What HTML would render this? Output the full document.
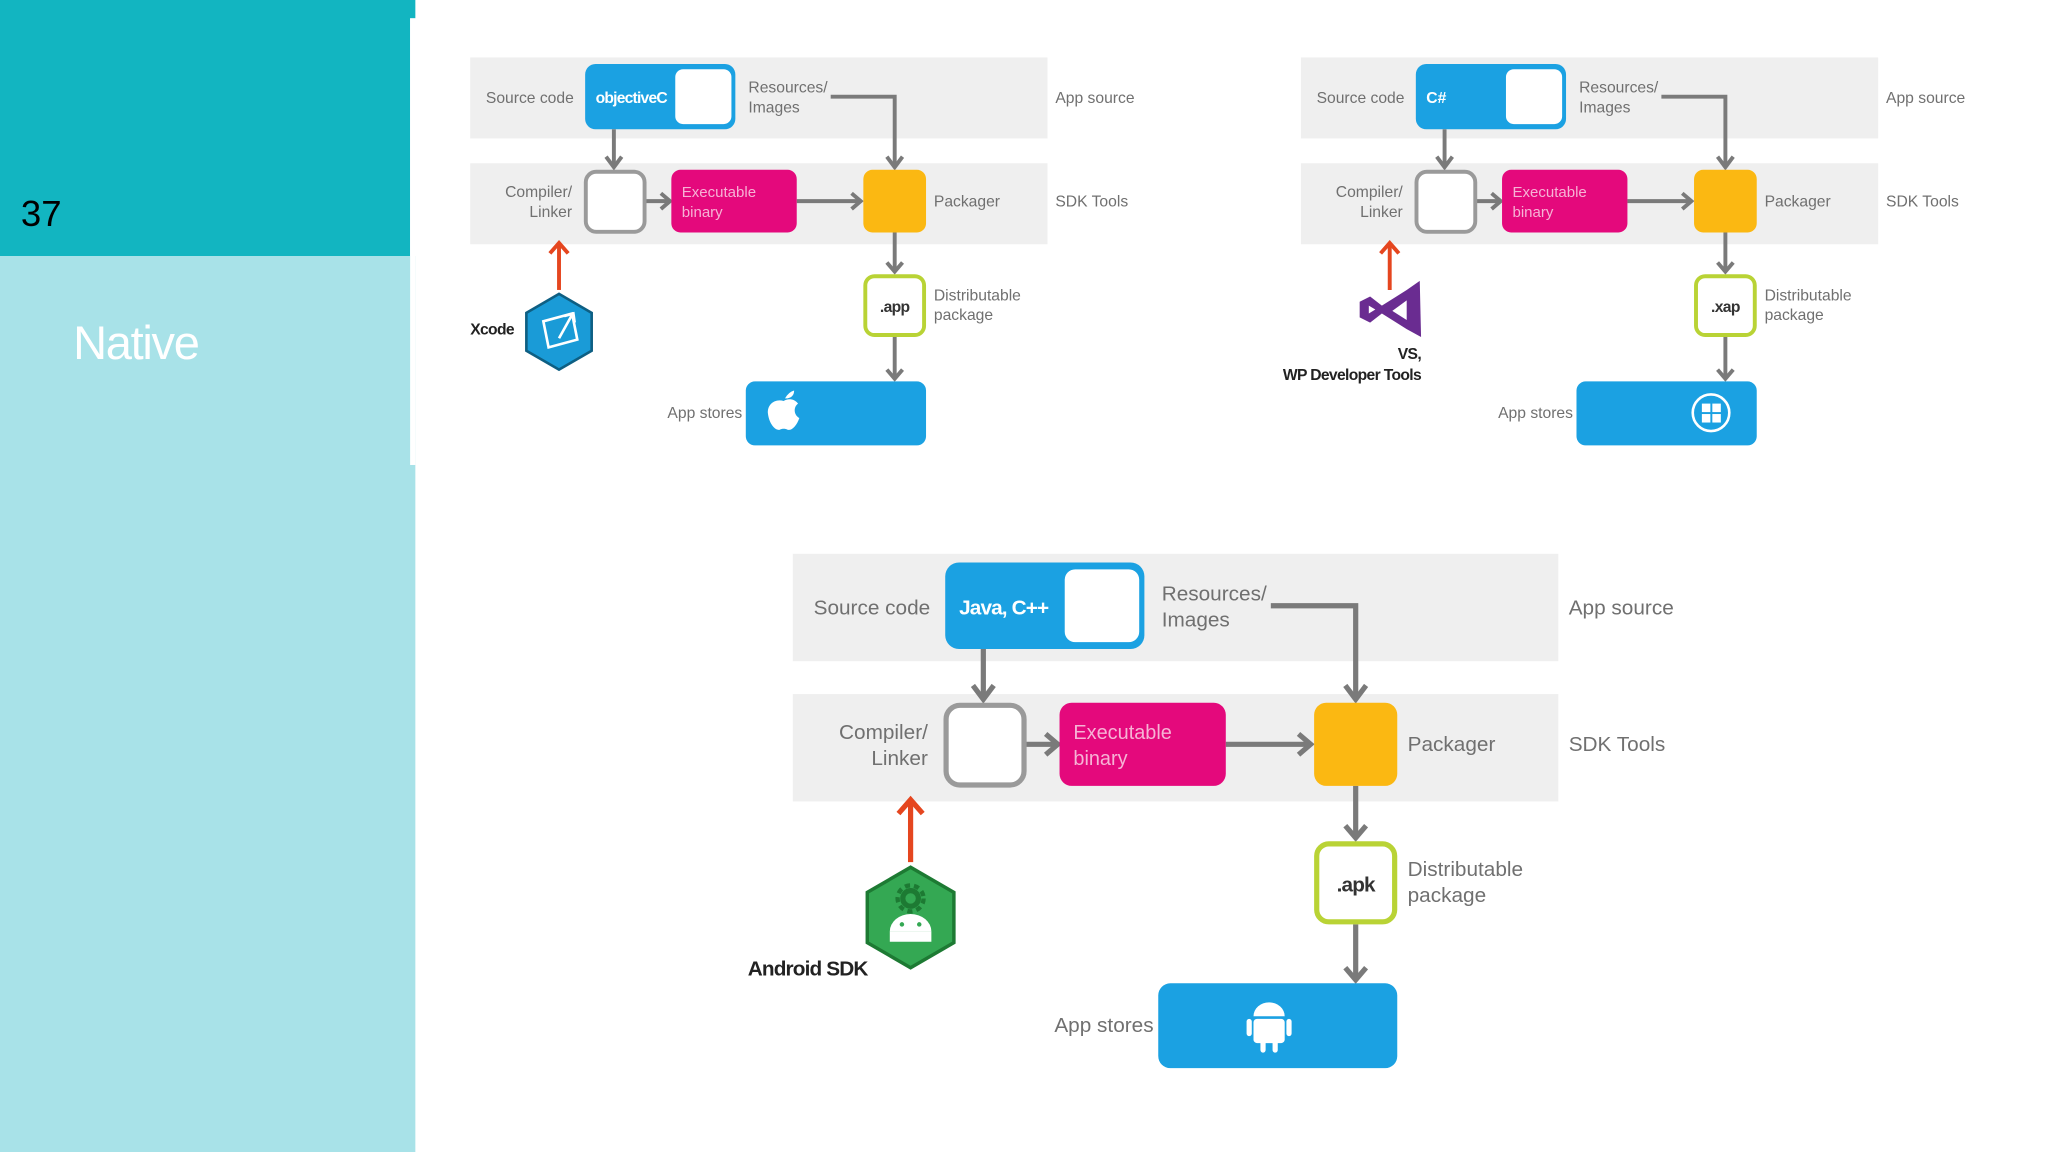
<!DOCTYPE html>
<html><head><meta charset="utf-8"><style>
html,body{margin:0;padding:0;background:#fff;width:2048px;height:1152px;overflow:hidden}
svg{display:block}
text{font-family:"Liberation Sans",sans-serif}
</style></head><body>
<svg width="2048" height="1152" viewBox="0 0 1568 882" xmlns="http://www.w3.org/2000/svg">
<rect x="0" y="0" width="1568" height="882" fill="#fff"/>
<rect x="0" y="0" width="318" height="14" fill="#12b5c1"/>
<rect x="0" y="0" width="314" height="196" fill="#12b5c1"/>
<rect x="0" y="196" width="318" height="686" fill="#a8e2e8"/>
<rect x="314" y="14" width="4" height="342" fill="#fff"/>
<text x="16" y="173" font-size="28" fill="#000">37</text>
<text x="56" y="275" font-size="36" fill="#fff" letter-spacing="-1" style="font-family:'Liberation Sans Narrow','Liberation Sans',sans-serif">Native</text>

<!-- Diagram 1 iOS -->
<g font-size="12" fill="#707070">
<rect x="360" y="44" width="442" height="62" fill="#efefef"/>
<rect x="360" y="125" width="442" height="62" fill="#efefef"/>
<text x="372" y="79">Source code</text>
<rect x="448" y="49" width="115" height="50" rx="8" fill="#1ba1e2"/>
<rect x="517" y="53" width="43" height="42" rx="6" fill="#fff"/>
<text x="456" y="79" fill="#fff" font-weight="bold" letter-spacing="-0.6">objectiveC</text>
<text x="573" y="71">Resources/</text><text x="573" y="86">Images</text>
<g stroke="#7a7a7a" stroke-width="3" fill="none">
<path d="M636 74 H685 V128"/><path d="M679 120 L685 128 L691 120"/>
<path d="M470 99 V128"/><path d="M464 120 L470 128 L476 120"/>
<path d="M494 154 H512"/><path d="M506 148 L513 154 L506 160"/>
<path d="M610 154 H658"/><path d="M652 148 L659 154 L652 160"/>
<path d="M685 178 V208"/><path d="M679 201 L685 208 L691 201"/>
<path d="M685 258 V290"/><path d="M679 283 L685 290 L691 283"/>
</g>
<rect x="448.5" y="131.5" width="45" height="46" rx="8" fill="#fff" stroke="#9a9a9a" stroke-width="3"/>
<text x="438" y="151" text-anchor="end">Compiler/</text><text x="438" y="166" text-anchor="end">Linker</text>
<rect x="514" y="130" width="96" height="48" rx="7" fill="#e4097c"/>
<text x="522" y="151" fill="#f6b3d5" font-size="11.5">Executable</text><text x="522" y="166" fill="#f6b3d5" font-size="11.5">binary</text>
<rect x="661" y="130" width="48" height="48" rx="7" fill="#fbb812"/>
<text x="715" y="158">Packager</text>
<text x="808" y="79">App source</text><text x="808" y="158">SDK Tools</text>
<rect x="662.5" y="211.5" width="45" height="45" rx="7" fill="#fff" stroke="#b9d335" stroke-width="3"/>
<text x="685" y="239" text-anchor="middle" fill="#333" font-weight="bold" letter-spacing="-0.5">.app</text>
<text x="715" y="230">Distributable</text><text x="715" y="245">package</text>
<rect x="571" y="292" width="138" height="49" rx="7" fill="#1ba1e2"/>
<text x="511" y="320">App stores</text>
<path d="M601 305 q3 -5 7 -6 q0 5 -5 6 z M600 307 c-7 -2 -13 3 -12 10 c1 8 6 13 9 12 c2 -1 4 -1 6 0 c3 1 7 -3 9 -9 c-4 -2 -5 -8 -1 -11 c-3 -4 -8 -4 -11 -2 z" fill="#fff"/>
<path d="M428 222 V188" stroke="#e5461f" stroke-width="3"/><path d="M421 194 L428 186 L435 194" stroke="#e5461f" stroke-width="3" fill="none"/>
<polygon points="428,225 453,239.5 453,268.5 428,283 403,268.5 403,239.5" fill="#1a9bd7" stroke="#0e5f83" stroke-width="2"/>
<path d="M416 246 L438 240 L442 260 L420 266 Z" fill="none" stroke="#fff" stroke-width="2"/>
<path d="M428 259 L438 241 M432 242 L439 240 L440 247" fill="none" stroke="#fff" stroke-width="2"/>
<text x="360" y="256" fill="#222" font-weight="bold" letter-spacing="-0.5">Xcode</text>
</g>

<!-- Diagram 2 Windows -->
<g font-size="12" fill="#707070" transform="translate(636,0)">
<rect x="360" y="44" width="442" height="62" fill="#efefef"/>
<rect x="360" y="125" width="442" height="62" fill="#efefef"/>
<text x="372" y="79">Source code</text>
<rect x="448" y="49" width="115" height="50" rx="8" fill="#1ba1e2"/>
<rect x="517" y="53" width="43" height="42" rx="6" fill="#fff"/>
<text x="456" y="79" fill="#fff" font-weight="bold">C#</text>
<text x="573" y="71">Resources/</text><text x="573" y="86">Images</text>
<g stroke="#7a7a7a" stroke-width="3" fill="none">
<path d="M636 74 H685 V128"/><path d="M679 120 L685 128 L691 120"/>
<path d="M470 99 V128"/><path d="M464 120 L470 128 L476 120"/>
<path d="M494 154 H512"/><path d="M506 148 L513 154 L506 160"/>
<path d="M610 154 H658"/><path d="M652 148 L659 154 L652 160"/>
<path d="M685 178 V208"/><path d="M679 201 L685 208 L691 201"/>
<path d="M685 258 V290"/><path d="M679 283 L685 290 L691 283"/>
</g>
<rect x="448.5" y="131.5" width="45" height="46" rx="8" fill="#fff" stroke="#9a9a9a" stroke-width="3"/>
<text x="438" y="151" text-anchor="end">Compiler/</text><text x="438" y="166" text-anchor="end">Linker</text>
<rect x="514" y="130" width="96" height="48" rx="7" fill="#e4097c"/>
<text x="522" y="151" fill="#f6b3d5" font-size="11.5">Executable</text><text x="522" y="166" fill="#f6b3d5" font-size="11.5">binary</text>
<rect x="661" y="130" width="48" height="48" rx="7" fill="#fbb812"/>
<text x="715" y="158">Packager</text>
<text x="808" y="79">App source</text><text x="808" y="158">SDK Tools</text>
<rect x="662.5" y="211.5" width="45" height="45" rx="7" fill="#fff" stroke="#b9d335" stroke-width="3"/>
<text x="685" y="239" text-anchor="middle" fill="#333" font-weight="bold" letter-spacing="-0.5">.xap</text>
<text x="715" y="230">Distributable</text><text x="715" y="245">package</text>
<rect x="571" y="292" width="138" height="49" rx="7" fill="#1ba1e2"/>
<text x="511" y="320">App stores</text>
<circle cx="674" cy="316" r="14" fill="none" stroke="#fff" stroke-width="2"/>
<rect x="667" y="309" width="6.5" height="6.5" fill="#fff"/><rect x="675" y="309" width="6.5" height="6.5" fill="#fff"/>
<rect x="667" y="317" width="6.5" height="6.5" fill="#fff"/><rect x="675" y="317" width="6.5" height="6.5" fill="#fff"/>
<path d="M428 222 V188" stroke="#e5461f" stroke-width="3"/><path d="M421 194 L428 186 L435 194" stroke="#e5461f" stroke-width="3" fill="none"/>
<path d="M441 222 L451 215 L452 258 L441 252 L422 240 L413 247 L405 243 L405 231 L413 227 L422 234 Z M441 230 L430 238 L441 245 Z M412 234 L412 240 L417 237 Z" fill="#6a2c91" fill-rule="evenodd"/>
<text x="452" y="275" text-anchor="end" fill="#222" font-weight="bold" letter-spacing="-0.5">VS,</text>
<text x="452" y="291" text-anchor="end" fill="#222" font-weight="bold" letter-spacing="-0.5">WP Developer Tools</text>
</g>

<!-- Diagram 3 Android -->
<g font-size="12" fill="#707070" transform="translate(607,424) scale(1.326) translate(-360,-44)">
<rect x="360" y="44" width="442" height="62" fill="#efefef"/>
<rect x="360" y="125" width="442" height="62" fill="#efefef"/>
<text x="372" y="79">Source code</text>
<rect x="448" y="49" width="115" height="50" rx="8" fill="#1ba1e2"/>
<rect x="517" y="53" width="43" height="42" rx="6" fill="#fff"/>
<text x="456" y="79" fill="#fff" font-weight="bold" letter-spacing="-0.5">Java, C++</text>
<text x="573" y="71">Resources/</text><text x="573" y="86">Images</text>
<g stroke="#7a7a7a" stroke-width="3" fill="none">
<path d="M636 74 H685 V128"/><path d="M679 120 L685 128 L691 120"/>
<path d="M470 99 V128"/><path d="M464 120 L470 128 L476 120"/>
<path d="M494 154 H512"/><path d="M506 148 L513 154 L506 160"/>
<path d="M610 154 H658"/><path d="M652 148 L659 154 L652 160"/>
<path d="M685 178 V208"/><path d="M679 201 L685 208 L691 201"/>
<path d="M685 258 V290"/><path d="M679 283 L685 290 L691 283"/>
</g>
<rect x="448.5" y="131.5" width="45" height="46" rx="8" fill="#fff" stroke="#9a9a9a" stroke-width="3"/>
<text x="438" y="151" text-anchor="end">Compiler/</text><text x="438" y="166" text-anchor="end">Linker</text>
<rect x="514" y="130" width="96" height="48" rx="7" fill="#e4097c"/>
<text x="522" y="151" fill="#f6b3d5" font-size="11.5">Executable</text><text x="522" y="166" fill="#f6b3d5" font-size="11.5">binary</text>
<rect x="661" y="130" width="48" height="48" rx="7" fill="#fbb812"/>
<text x="715" y="158">Packager</text>
<text x="808" y="79">App source</text><text x="808" y="158">SDK Tools</text>
<rect x="662.5" y="211.5" width="45" height="45" rx="7" fill="#fff" stroke="#b9d335" stroke-width="3"/>
<text x="685" y="239" text-anchor="middle" fill="#333" font-weight="bold" letter-spacing="-0.5">.apk</text>
<text x="715" y="230">Distributable</text><text x="715" y="245">package</text>
<rect x="571" y="292" width="138" height="49" rx="7" fill="#1ba1e2"/>
<text x="511" y="320">App stores</text>
<g fill="#fff" transform="translate(11,0)">
<path d="M615 311 a9 8 0 0 1 18 0 z"/>
<rect x="615" y="312.5" width="18" height="14" rx="2"/>
<rect x="611" y="312.5" width="3" height="10" rx="1.5"/><rect x="634" y="312.5" width="3" height="10" rx="1.5"/>
<rect x="619" y="325" width="3" height="7" rx="1.5"/><rect x="626" y="325" width="3" height="7" rx="1.5"/>
</g>
<path d="M428 222 V188" stroke="#e5461f" stroke-width="3"/><path d="M421 194 L428 186 L435 194" stroke="#e5461f" stroke-width="3" fill="none"/>
<polygon points="428,225 453,239.5 453,268.5 428,283 403,268.5 403,239.5" fill="#34a853" stroke="#1d7a33" stroke-width="2"/>
<circle cx="428" cy="243" r="4.5" fill="none" stroke="#1d7a33" stroke-width="3"/>
<circle cx="428" cy="243" r="7.5" fill="none" stroke="#1d7a33" stroke-width="2.5" stroke-dasharray="3 2.3"/>
<path d="M416 262 a12 10 0 0 1 24 0 z" fill="#fff"/>
<rect x="416" y="262" width="24" height="6" fill="#fff"/>
<circle cx="423" cy="258" r="1.3" fill="#34a853"/><circle cx="433" cy="258" r="1.3" fill="#34a853"/>
<text x="334" y="287.5" fill="#222" font-weight="bold" letter-spacing="-0.5">Android SDK</text>
</g>
</svg>
</body></html>
